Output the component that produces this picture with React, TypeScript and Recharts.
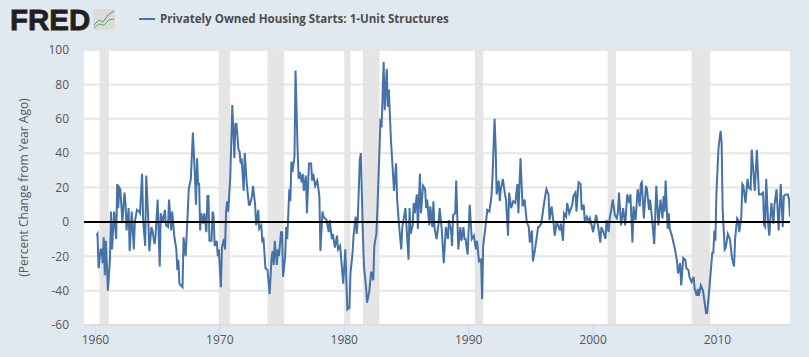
import React from 'react';
import {
  LineChart,
  Line,
  XAxis,
  YAxis,
  CartesianGrid,
  ReferenceArea,
  ReferenceLine,
  Legend
} from 'recharts';

const sixties: [number, number][] = [
  [1, -8], [2, -7], [3, -27], [5, -16], [6, -16], [7, -24], [8, -9], [9, -31], [10, -11], [11, -25],
  [12, -40], [14, -22], [15, 6], [16, -16], [18, 6], [20, -10], [21, 22], [22, 8], [23, 20], [24, 19],
  [26, 0], [28, 17], [29, 11], [30, -5], [32, 8], [33, -17], [35, 6], [37, -16], [38, 0], [40, 7],
  [42, 6], [43, 5], [45, 28], [46, 1], [48, -14], [49, 27], [51, 1], [52, -17], [54, -3], [55, -5],
  [57, -13], [58, -8], [60, 13], [62, -26], [63, 5], [65, 0], [67, 7], [68, -2], [70, -3], [71, 13],
  [73, -5], [74, 6], [76, -8], [78, -16], [79, -28], [80, -22], [81, -36], [84, -38], [85, -9], [87, -20],
  [89, 5], [90, 19], [92, 25], [94, 52], [96, 26], [97, 10], [98, 37], [99, 22], [100, 22], [101, -5],
  [102, 5], [104, -1], [105, 5], [107, -6], [108, 15], [109, 15], [110, -11], [112, -11], [113, 6], [114, 3],
  [115, -14], [117, -11], [118, -20], [119, -16]
];

const seventies: [number, number][] = [
  [1, -38], [2, -15], [4, -10], [5, -16], [6, 6], [7, 12], [8, 6], [10, 25], [12, 68], [14, 37],
  [15, 57], [16, 57], [18, 42], [19, 41], [20, 34], [21, 37], [23, 18], [24, 40], [26, 22], [28, 10],
  [29, 10], [31, 15], [32, 21], [34, 10], [35, -2], [37, 7], [38, -4], [40, -2], [41, -12], [42, -9],
  [44, -27], [46, -28], [48, -42], [50, -20], [51, -17], [52, -25], [53, -11], [55, -25], [56, -16], [57, -20],
  [59, -6], [60, -6], [61, -32], [63, -20], [64, -3], [65, -10], [67, 19], [68, 12], [69, 35], [70, 29],
  [72, 38], [73, 88], [75, 42], [76, 25], [77, 29], [79, 23], [80, 28], [81, 18], [83, 27], [84, 5],
  [86, 34], [88, 34], [89, 24], [90, 28], [92, 21], [94, 24], [96, 15], [97, -17], [99, 6], [100, 3],
  [103, 1], [105, -6], [106, 1], [108, -10], [109, -7], [111, -15], [113, -8], [114, -16], [116, -14], [119, -36]
];

const eighties: [number, number][] = [
  [1, -16], [3, -51], [5, -50], [6, -30], [8, -18], [9, -8], [11, 3], [12, -7], [13, 1], [15, 36],
  [16, 40], [18, -8], [19, -26], [21, -38], [22, -47], [24, -41], [26, -29], [28, -34], [29, -14], [31, -7],
  [32, 8], [35, 60], [36, 55], [38, 93], [39, 65], [41, 89], [42, 67], [43, 77], [45, 48], [48, 18],
  [50, 34], [51, 13], [52, 5], [53, -3], [55, -16], [56, -3], [59, 8], [62, -22], [63, 8], [64, -7],
  [66, -2], [67, 11], [68, 5], [70, 16], [71, -4], [73, 28], [74, 5], [76, 21], [78, 19], [79, 8],
  [80, 13], [82, -2], [83, 9], [85, -3], [86, 12], [87, -3], [89, -10], [91, -1], [92, 8], [94, -4],
  [96, -24], [98, -3], [100, -10], [101, 1], [103, -5], [104, -14], [105, 4], [107, 5], [108, 24], [110, -16],
  [112, -3], [113, -11], [115, -3], [116, -10], [117, -10], [119, -19]
];

const nineties: [number, number][] = [
  [1, 10], [3, -10], [5, -8], [7, -16], [8, -11], [10, -23], [12, -22], [13, -45], [14, -14], [16, -4],
  [18, 7], [20, 6], [22, 15], [23, 26], [25, 60], [26, 44], [27, 16], [29, 24], [30, 12], [31, 19],
  [33, 25], [35, 16], [36, 13], [38, -8], [39, 17], [41, 8], [43, 12], [45, 11], [47, 22], [48, 5],
  [50, 37], [52, 9], [54, 13], [56, 0], [58, -3], [59, -12], [61, -5], [62, -23], [64, -16], [67, -3],
  [68, -3], [70, -1], [73, 12], [75, 19], [77, 16], [78, 1], [80, 9], [82, -1], [83, -8], [85, 0],
  [88, -5], [89, -1], [91, -11], [92, 5], [94, 3], [95, 11], [97, 5], [100, 10], [101, 15], [103, 17],
  [104, 6], [106, 23], [108, 22], [109, 7], [111, 10], [112, 0], [114, 3], [116, 0], [117, 2], [119, -3]
];

const twoThousands: [number, number][] = [
  [0, -6], [3, 4], [5, -3], [7, -12], [8, -3], [10, -6], [12, -10], [13, 1], [15, -6], [16, 2],
  [17, 5], [19, 13], [21, 4], [23, 2], [24, 6], [25, 17], [27, -2], [29, 8], [31, -2], [33, 16],
  [35, 11], [36, 16], [38, -12], [39, 9], [41, 1], [43, 19], [45, 9], [46, 22], [47, 23], [49, 2],
  [51, 21], [52, 19], [54, 7], [55, 13], [57, 1], [59, -13], [61, 21], [63, -2], [65, 13], [67, 2],
  [68, 15], [69, 6], [70, 24], [72, -4], [73, 5], [74, -4], [76, -8], [79, -16], [81, -23], [82, -30],
  [84, -24], [85, -37], [87, -21], [89, -22], [90, -27], [92, -28], [93, -32], [95, -35], [97, -32], [98, -39],
  [100, -43], [101, -39], [102, -43], [104, -37], [106, -40], [109, -53], [110, -53], [112, -40], [115, -18], [116, -18],
  [117, -5], [118, -11], [119, 17]
];

const twentyTens: [number, number][] = [
  [1, 43], [3, 53], [4, 46], [5, 7], [7, -16], [8, -15], [10, -7], [12, -10], [14, -21], [16, -26],
  [17, -10], [19, 2], [20, 1], [21, -6], [23, 3], [24, 22], [25, 21], [27, 11], [29, 25], [30, 20],
  [32, 19], [33, 42], [36, 18], [38, 42], [40, 16], [42, 16], [44, 17], [45, -2], [46, -3], [47, 25],
  [49, -2], [50, -8], [52, 11], [54, -1], [55, 10], [57, 19], [59, -5], [61, 22], [63, -3], [64, 15],
  [66, 16], [68, 16], [69, 13], [70, 3]
];

const decades: [number, [number, number][]][] = [
  [1960, sixties],
  [1970, seventies],
  [1980, eighties],
  [1990, nineties],
  [2000, twoThousands],
  [2010, twentyTens]
];

// NBER recession start and end, as decimal years
const recessions: [number, number][] = [
  [1960.33, 1961.08],
  [1969.92, 1970.83],
  [1973.83, 1975.17],
  [1980.0, 1980.5],
  [1981.5, 1982.83],
  [1990.5, 1991.17],
  [2001.17, 2001.83],
  [2007.92, 2009.42]
];

const yearTicks = [1960, 1970, 1980, 1990, 2000, 2010];
const percentTicks = [-60, -40, -20, 0, 20, 40, 60, 80, 100];

const seriesName = 'Privately Owned Housing Starts: 1-Unit Structures';

const chartData = decades.flatMap(([start, points]) =>
  points.map(([month, value]) => ({ year: start + month / 12, value }))
);

const font = '"Open Sans", sans-serif';

const FredLegend = () => (
  <div style={{ display: 'flex', alignItems: 'center', fontFamily: font }}>
    <span style={{ width: 16, height: 2, background: '#4572a7', marginRight: 5 }} />
    <span style={{ fontSize: 11.6, fontWeight: 700, color: '#4d4d4d', whiteSpace: 'nowrap' }}>{seriesName}</span>
  </div>
);

const Logo = () => (
  <svg width={120} height={36} style={{ position: 'absolute', left: 0, top: 0 }}>
    <text
      x={10}
      y={30}
      fontFamily="Liberation Sans"
      fontWeight={700}
      fontSize={29.5}
      fill="#231f20"
      stroke="#231f20"
      strokeWidth={0.8}
    >
      FRED
    </text>
    <rect x={93} y={9} width={22} height={21} rx={2} fill="#dcdcd4" />
    <polyline points="94,25 99,20 103,22 108,15 114,11" fill="none" stroke="#5b8db8" strokeWidth={1} />
    <polyline points="94,28 99,24 104,25 109,20 114,19" fill="none" stroke="#6aa84f" strokeWidth={1} />
  </svg>
);

export default function App() {
  return (
    <div style={{ position: 'relative', width: 809, height: 357, background: '#e1e9f0', overflow: 'hidden' }}>
      <style>{'body { margin: 0; }'}</style>
      <LineChart
        width={809}
        height={357}
        data={chartData}
        margin={{ top: 34, right: 19, bottom: 2, left: 0 }}
      >
        <CartesianGrid vertical={false} stroke="#e6e6e6" strokeWidth={2} fill="#ffffff" />
        {recessions.map(([from, to]) => (
          <ReferenceArea key={from} x1={from} x2={to} fill="#e5e5e5" fillOpacity={1} stroke="none" />
        ))}
        <XAxis
          dataKey="year"
          type="number"
          domain={[1959.08, 2015.83]}
          ticks={yearTicks}
          allowDataOverflow
          height={30}
          tickSize={10}
          tickMargin={0}
          stroke="#ccd6eb"
          tick={{ fontSize: 12, fontFamily: font, fill: '#555555' }}
        />
        <YAxis
          type="number"
          domain={[-60, 100]}
          ticks={percentTicks}
          width={84}
          axisLine={false}
          tickLine={false}
          tickMargin={9}
          tick={{ fontSize: 12, fontFamily: font, fill: '#555555' }}
          label={{
            value: '(Percent Change from Year Ago)',
            angle: -90,
            position: 'insideLeft',
            offset: 24,
            style: { fontSize: 12, fontFamily: font, fill: '#555555', textAnchor: 'middle' }
          }}
        />
        <Line
          dataKey="value"
          name={seriesName}
          type="linear"
          stroke="#4572a7"
          strokeWidth={2}
          dot={false}
          isAnimationActive={false}
        />
        <ReferenceLine y={0} stroke="#000000" strokeWidth={2} />
        <Legend
          verticalAlign="top"
          height={16}
          content={<FredLegend />}
          wrapperStyle={{ position: 'absolute', left: 139, top: 11, width: 320, height: 16 }}
        />
      </LineChart>
      <Logo />
    </div>
  );
}
